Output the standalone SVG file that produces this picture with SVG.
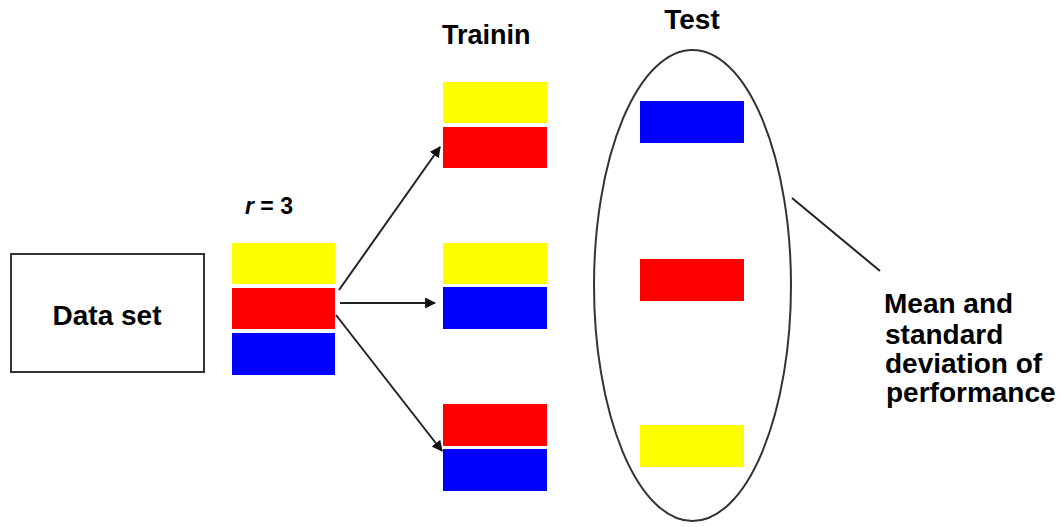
<svg xmlns="http://www.w3.org/2000/svg" width="1063" height="527" viewBox="0 0 1063 527">
<style>
text{font-family:"Liberation Sans",Arial,sans-serif;font-weight:bold;fill:#000}
.lbl{font-size:27px}
.y{fill:#ffff00}
.r{fill:#ff0000}
.b{fill:#0000ff}
.edge{stroke:#222;stroke-width:2;fill:none}
</style>
<defs>
<marker id="ah" viewBox="0 0 10 10" refX="9" refY="5" markerWidth="5.5" markerHeight="5.5" orient="auto" markerUnits="strokeWidth">
<path d="M0,0 L10,5 L0,10 z" fill="#111"/>
</marker>
</defs>
<rect width="1063" height="527" fill="#fff"/>
<g id="dataset">
<rect x="11" y="254" width="193" height="118" fill="#fff" stroke="#333" stroke-width="2"/>
<text class="lbl" x="107" y="325" text-anchor="middle" style="font-size:28px">Data set</text>
</g>
<g id="folds">
<text x="245" y="214" style="font-size:23px"><tspan font-style="italic">r</tspan> = 3</text>
<rect class="y" x="232" y="243" width="103" height="41"/>
<rect class="r" x="232" y="288" width="103" height="41"/>
<rect class="b" x="232" y="333" width="103" height="42"/>
</g>
<g id="training">
<text class="lbl" x="442" y="44">Trainin</text>
<g id="train1">
<rect class="y" x="443" y="82" width="104" height="41"/>
<rect class="r" x="443" y="127" width="104" height="41"/>
</g>
<g id="train2">
<rect class="y" x="443" y="243" width="104" height="41"/>
<rect class="b" x="443" y="287" width="104" height="42"/>
</g>
<g id="train3">
<rect class="r" x="443" y="404" width="104" height="42"/>
<rect class="b" x="443" y="449" width="104" height="42"/>
</g>
</g>
<g id="test">
<text class="lbl" x="692" y="29" text-anchor="middle" style="font-size:28px">Test</text>
<ellipse cx="692.5" cy="285.5" rx="98.5" ry="235.5" fill="none" stroke="#333" stroke-width="2"/>
<rect class="b" x="640" y="101" width="104" height="42"/>
<rect class="r" x="640" y="259" width="104" height="42"/>
<rect class="y" x="640" y="425" width="104" height="42"/>
</g>
<g id="result">
<text style="font-size:28px">
<tspan x="884" y="313">Mean and</tspan>
<tspan x="885" y="344">standard</tspan>
<tspan x="885" y="373">deviation of</tspan>
<tspan x="886" y="402">performance</tspan>
</text>
</g>
<g id="connectors">
<line class="edge" x1="339" y1="290" x2="440" y2="147" marker-end="url(#ah)"/>
<line class="edge" x1="340" y1="303" x2="435" y2="303" marker-end="url(#ah)"/>
<line class="edge" x1="336" y1="315" x2="442" y2="451" marker-end="url(#ah)"/>
<line class="edge" x1="792" y1="198" x2="880" y2="271"/>
</g>
</svg>
